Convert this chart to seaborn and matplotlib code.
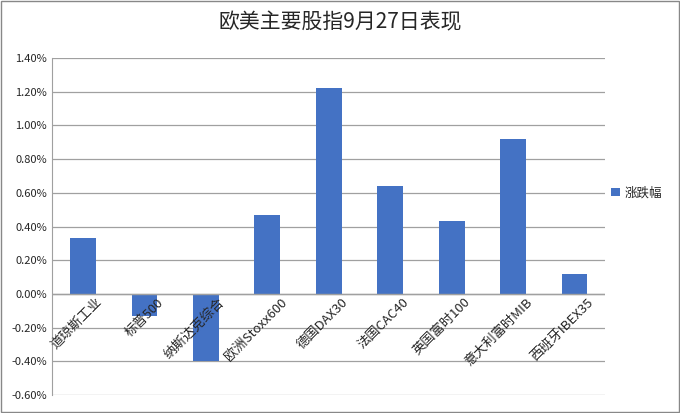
import matplotlib
matplotlib.use("Agg")
import matplotlib.pyplot as plt
import seaborn as sns
import pandas as pd
from matplotlib.ticker import FuncFormatter, MultipleLocator

categories = ["道琼斯工业", "标普500", "纳斯达克综合", "欧洲Stoxx600", "德国DAX30",
              "法国CAC40", "英国富时100", "意大利富时MIB", "西班牙IBEX35"]
values = [0.33, -0.13, -0.40, 0.47, 1.22, 0.64, 0.43, 0.92, 0.12]
series_name = "涨跌幅"
title = "欧美主要股指9月27日表现"

sns.set_style("white")
plt.rcParams['font.family'] = ['Noto Sans CJK SC', 'DejaVu Sans']

df = pd.DataFrame({"cat": categories, "val": values, "s": series_name})
fig = plt.figure(figsize=(6.8, 4.13), dpi=100)
fig.patches.append(plt.Rectangle((0.002, 0.002), 0.996, 0.996, transform=fig.transFigure,
                                 fill=False, edgecolor="#888888", lw=1))
ax = fig.add_axes([0.077, 0.043, 0.813, 0.817])
sns.barplot(data=df, x="cat", y="val", hue="s", palette=["#4472C4"], width=0.42,
            saturation=1, linewidth=0, ax=ax, zorder=3)
ax.set_ylim(-0.6, 1.4)
ax.yaxis.set_major_locator(MultipleLocator(0.2))
ax.yaxis.set_major_formatter(FuncFormatter(lambda v, p: f"{v:.2f}%"))
ax.tick_params(axis="y", labelsize=8, length=0, pad=4)
ax.grid(axis="y", color="#A0A0A0", lw=0.9, zorder=0)
ax.set_xticks([])
ax.set_xlabel("")
ax.set_ylabel("")
for s in ["top", "right", "bottom"]:
    ax.spines[s].set_visible(False)
ax.spines["left"].set_color("#A0A0A0")
ax.axhline(0, color="#A0A0A0", lw=1, zorder=4)
for i, c in enumerate(categories):
    ax.text(i + 0.2, -0.01, c, rotation=45, ha="right", va="top", fontsize=9.5,
            rotation_mode="anchor", zorder=5)
leg = ax.legend(loc="center left", bbox_to_anchor=(0.99, 0.6), frameon=False, fontsize=9,
                handlelength=0.7, handleheight=0.7, handletextpad=0.4)
fig.text(0.5, 0.945, title, ha="center", va="center", fontsize=15)
fig.savefig("out.png", dpi=100)
